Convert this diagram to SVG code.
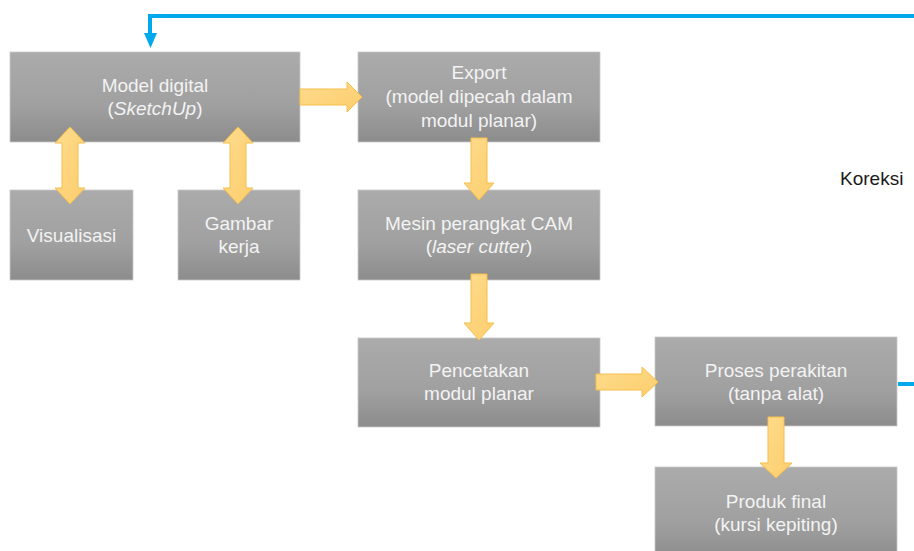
<svg xmlns="http://www.w3.org/2000/svg" width="914" height="551" viewBox="0 0 914 551">
  <defs>
    <linearGradient id="boxg" x1="0" y1="0" x2="0" y2="1">
      <stop offset="0" stop-color="#ababab"/>
      <stop offset="0.6" stop-color="#a0a0a0"/>
      <stop offset="1" stop-color="#8c8c8c"/>
    </linearGradient>
    <linearGradient id="arrg" x1="0" y1="0" x2="1" y2="1">
      <stop offset="0" stop-color="#ffdc8e"/>
      <stop offset="1" stop-color="#fccd6c"/>
    </linearGradient>
  </defs>
  <style>
    .box { fill: url(#boxg); stroke: #c8c8c8; stroke-width: 0.8; }
    .t { font-family: "Liberation Sans", Arial, sans-serif; font-size: 19px; fill: #f3f3f3; text-anchor: middle; }
    .ya { fill: url(#arrg); stroke: #f5bf4a; stroke-width: 1; }
    .blue { fill: none; stroke: #00a8ec; stroke-width: 4; }
    .lbl { font-family: "Liberation Sans", Arial, sans-serif; font-size: 19px; fill: #1a1a1a; }
  </style>
  <rect width="914" height="551" fill="#ffffff"/>

  <g id="model-digital">
    <rect class="box" x="10" y="52" width="290" height="90"/>
    <text class="t" x="155" y="92">Model digital</text>
    <text class="t" x="155" y="115">(<tspan font-style="italic">SketchUp</tspan>)</text>
  </g>
  <g id="visualisasi">
    <rect class="box" x="10" y="190" width="123" height="90"/>
    <text class="t" x="71.5" y="241.5">Visualisasi</text>
  </g>
  <g id="gambar-kerja">
    <rect class="box" x="178" y="190" width="122" height="90"/>
    <text class="t" x="239" y="230">Gambar</text>
    <text class="t" x="239" y="253">kerja</text>
  </g>
  <g id="export">
    <rect class="box" x="358" y="52" width="242" height="90"/>
    <text class="t" x="479" y="79">Export</text>
    <text class="t" x="479" y="103">(model dipecah dalam</text>
    <text class="t" x="479" y="127">modul planar)</text>
  </g>
  <g id="mesin-cam">
    <rect class="box" x="358" y="190" width="242" height="90"/>
    <text class="t" x="479" y="230">Mesin perangkat CAM</text>
    <text class="t" x="479" y="253">(<tspan font-style="italic">laser cutter</tspan>)</text>
  </g>
  <g id="pencetakan">
    <rect class="box" x="358" y="338" width="242" height="89"/>
    <text class="t" x="479" y="377">Pencetakan</text>
    <text class="t" x="479" y="400">modul planar</text>
  </g>
  <g id="proses-perakitan">
    <rect class="box" x="655" y="337" width="242" height="89"/>
    <text class="t" x="776" y="377">Proses perakitan</text>
    <text class="t" x="776" y="400">(tanpa alat)</text>
  </g>
  <g id="produk-final">
    <rect class="box" x="655" y="467" width="242" height="92"/>
    <text class="t" x="776" y="508">Produk final</text>
    <text class="t" x="776" y="531">(kursi kepiting)</text>
  </g>

  <g id="connectors">
    <path class="blue" d="M898 384 H918 V16 H150 V34"/>
    <polygon points="144,33 157,33 150.5,48" fill="#00a8ec"/>
    <polygon class="ya" points="300,89 347,89 347,82 362,97 347,112 347,105 300,105"/>
    <polygon class="ya" points="471,138 487,138 487,183 494,183 479,200 464,183 471,183"/>
    <polygon class="ya" points="471,274 487,274 487,323 494,323 479,340 464,323 471,323"/>
    <polygon class="ya" points="596,374 642,374 642,367 658,382 642,397 642,390 596,390"/>
    <polygon class="ya" points="768,417 784,417 784,463 792,463 776,478 760,463 768,463"/>
    <polygon class="ya" points="70,127 85,143 78,143 78,188 85,188 70,204 55,188 62,188 62,143 55,143"/>
    <polygon class="ya" points="238,127 253,143 246,143 246,188 253,188 238,204 223,188 230,188 230,143 223,143"/>
    <text class="lbl" x="840" y="185">Koreksi</text>
  </g>
</svg>
